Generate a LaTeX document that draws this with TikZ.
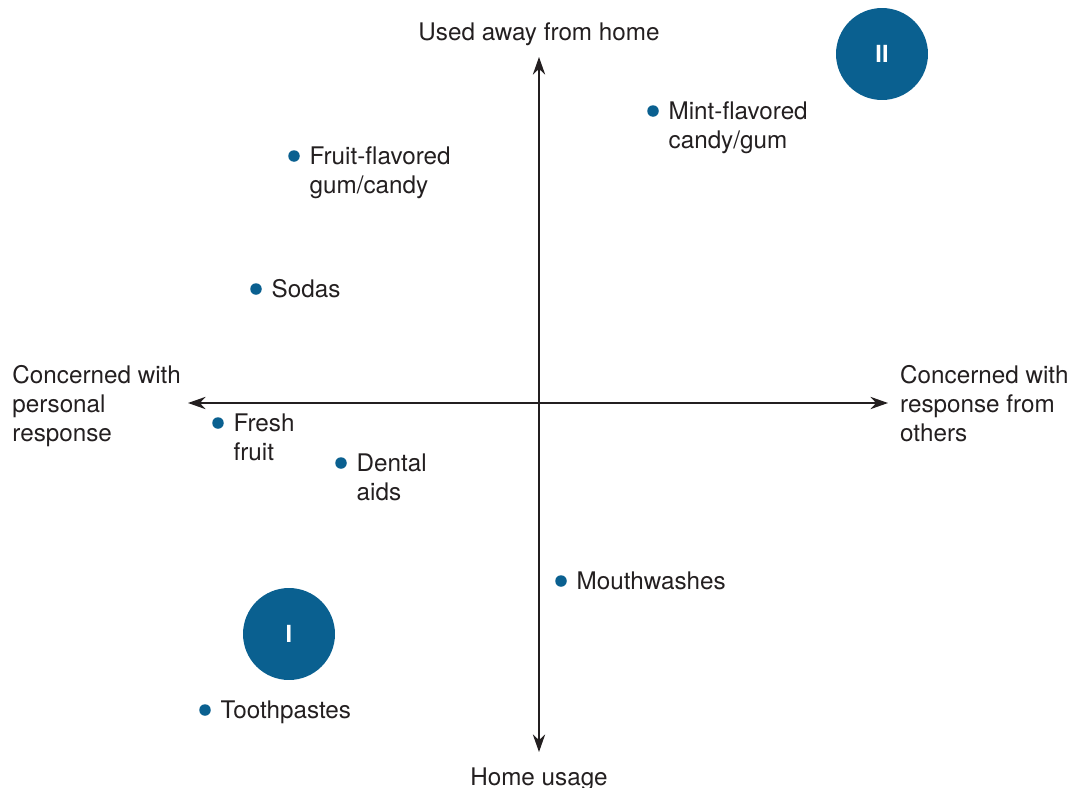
\documentclass[tikz,border=0pt]{standalone}
\usepackage{fontspec}
\setmainfont{TeX Gyre Heros}
\usetikzlibrary{arrows.meta,positioning}
\definecolor{mpBlue}{HTML}{0A6090}
\definecolor{mpInk} {HTML}{231F20}

\begin{document}
\begin{tikzpicture}[x=0.02cm,y=-0.02cm,font=\fontsize{13.8}{16.5}\selectfont,
    every node/.style={text=mpInk},
    axis/.style={draw=mpInk,line width=1.1pt,{Stealth[length=10pt,width=7pt]}-{Stealth[length=10pt,width=7pt]}},
    quad/.style={circle,fill=mpBlue,minimum size=1.84cm,inner sep=0pt,text=white,font=\bfseries\fontsize{13.4}{16}\selectfont},
    spot/.style={circle,fill=mpBlue,minimum size=0.23cm,inner sep=0pt},
    tag/.style={anchor=north west,inner sep=0pt,align=left,yshift=0.11cm}]
  \useasboundingbox (0,0) rectangle (1079,788);
  % axes
  \coordinate (top) at (539,57);
  \coordinate (bot) at (539,752);
  \coordinate (lft) at (188,403);
  \coordinate (rgt) at (888,403);
  \draw[axis] (bot) -- (top);
  \draw[axis] (lft) -- (rgt);
  \node (awayL) at (539,34) {Used away from home};
  \node (homeL) at (539,779) {Home usage};
  \node (persL) [left=0.02cm of lft,align=left,yshift=-0.06cm] {Concerned with\\personal\\response};
  \node (othrL) [right=0.12cm of rgt,align=left,yshift=-0.02cm] {Concerned with\\response from\\others};
  % quadrant marks
  \node (q1) [quad] at (289,634) {I};
  \node (q2) [quad] at (882,54) {II};
  % products
  \node (mint)  [spot] at (653,111) {};
  \node (fruit) [spot] at (294,156) {};
  \node (soda)  [spot] at (256,289) {};
  \node (fresh) [spot] at (218,423) {};
  \node (dent)  [spot] at (341,463) {};
  \node (mouth) [spot] at (561,581) {};
  \node (tooth) [spot] at (205,710) {};
  \node (mintT)  [right=0.22cm of mint.north east,tag]  {Mint-flavored\\candy/gum};
  \node (fruitT) [right=0.22cm of fruit.north east,tag] {Fruit-flavored\\gum/candy};
  \node (sodaT)  [right=0.22cm of soda.north east,tag]  {Sodas};
  \node (freshT) [right=0.22cm of fresh.north east,tag] {Fresh\\fruit};
  \node (dentT)  [right=0.22cm of dent.north east,tag]  {Dental\\aids};
  \node (mouthT) [right=0.22cm of mouth.north east,tag] {Mouthwashes};
  \node (toothT) [right=0.22cm of tooth.north east,tag] {Toothpastes};
\end{tikzpicture}
\end{document}
